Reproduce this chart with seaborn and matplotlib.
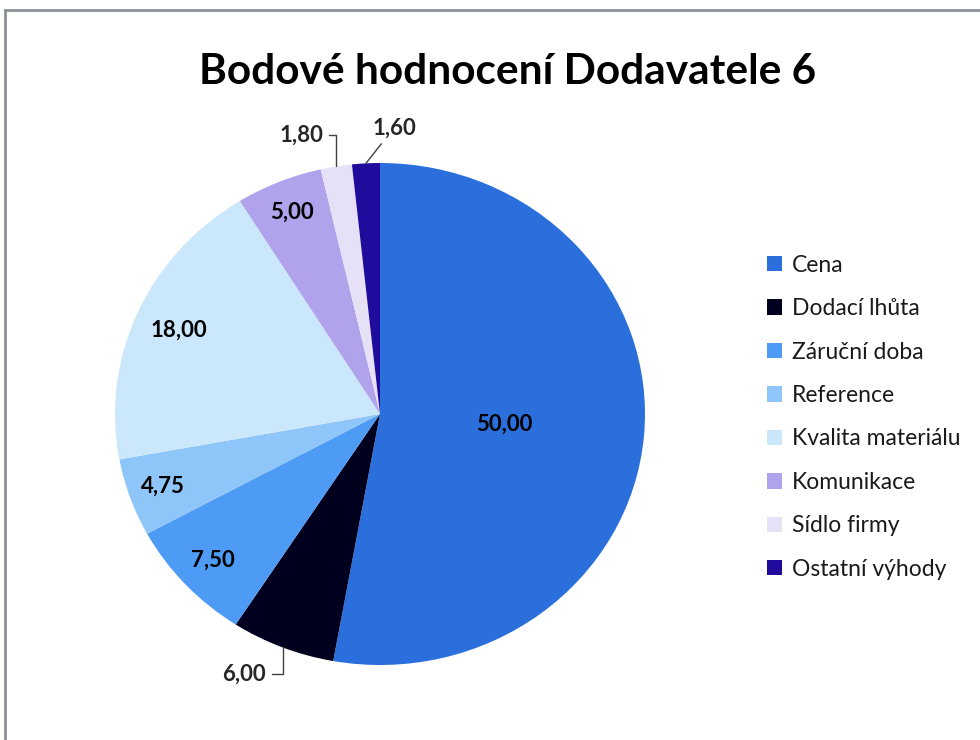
import numpy as np
import matplotlib
matplotlib.use("Agg")
import matplotlib.pyplot as plt
import seaborn as sns
from matplotlib.patches import Rectangle

# Data
kategorie = ["Cena", "Dodací lhůta", "Záruční doba", "Reference",
             "Kvalita materiálu", "Komunikace", "Sídlo firmy", "Ostatní výhody"]
body = [50.00, 6.00, 7.50, 4.75, 18.00, 5.00, 1.80, 1.60]
barvy = ["#2a6fdb", "#00001e", "#4e9bf5", "#8fc6f9",
         "#cbe7fb", "#b1a2ec", "#e6e1f6", "#1f0c9c"]

sns.set_theme(style="white")
plt.rcParams['font.family'] = ['Lato', 'DejaVu Sans']

fig = plt.figure(figsize=(9.8, 7.4), dpi=100)
ax = fig.add_axes([115/980, 75/740, 530/980, 502/740])

wedges, _ = ax.pie(body, colors=barvy, startangle=90, counterclock=False,
                   radius=1.0, wedgeprops=dict(linewidth=0))
ax.set_aspect('auto')
ax.set_xlim(-1, 1)
ax.set_ylim(-1, 1)

def fmt(v):
    return f"{v:.2f}".replace(".", ",")

# popisky uvnitr vysecí
vzdal = {0: 0.47, 2: 0.86, 3: 0.87, 4: 0.83, 5: 0.87}
for i, r in vzdal.items():
    w = wedges[i]
    ang = np.deg2rad((w.theta1 + w.theta2) / 2)
    ax.text(r * np.cos(ang), r * np.sin(ang), fmt(body[i]), ha='center', va='center',
            fontsize=16, fontweight='bold', color='black')

# popisky venku s vodicimi carami
def bod(i):
    w = wedges[i]
    ang = np.deg2rad((w.theta1 + w.theta2) / 2)
    return np.cos(ang), np.sin(ang)

ax.annotate(fmt(body[1]), xy=bod(1), xytext=(-0.43, -1.036), ha='right', va='center',
            fontsize=16, fontweight='bold',
            arrowprops=dict(arrowstyle='-', color='#404040', lw=1,
                            connectionstyle='angle,angleA=0,angleB=90,rad=0',
                            shrinkA=2, shrinkB=0))
ax.annotate(fmt(body[6]), xy=bod(6), xytext=(-0.215, 1.11), ha='right', va='center',
            fontsize=16, fontweight='bold',
            arrowprops=dict(arrowstyle='-', color='#404040', lw=1,
                            connectionstyle='angle,angleA=0,angleB=90,rad=0',
                            shrinkA=2, shrinkB=0))
ax.annotate(fmt(body[7]), xy=bod(7), xytext=(-0.03, 1.14), ha='left', va='center',
            fontsize=16, fontweight='bold',
            arrowprops=dict(arrowstyle='-', color='#404040', lw=1,
                            shrinkA=2, shrinkB=0))

fig.text(508/980, 1 - 72/740, "Bodové hodnocení Dodavatele 6", ha='center', va='center',
         fontsize=30.5, fontweight='bold', color='black')

leg = fig.legend(wedges, kategorie, loc='upper left', bbox_to_anchor=(746/980, 1 - 234/740),
                 frameon=False, fontsize=16.5, labelspacing=0.98, handlelength=0.65,
                 handleheight=0.65, handletextpad=0.45)
for t in leg.get_texts():
    t.set_color('#1a1a1a')

fig.patches.append(Rectangle((5/980, -0.1), 1.2, 1 - 10/740 + 0.1, transform=fig.transFigure,
                             fill=False, edgecolor='#8a9096', linewidth=2))

fig.savefig("out.png", dpi=100)
